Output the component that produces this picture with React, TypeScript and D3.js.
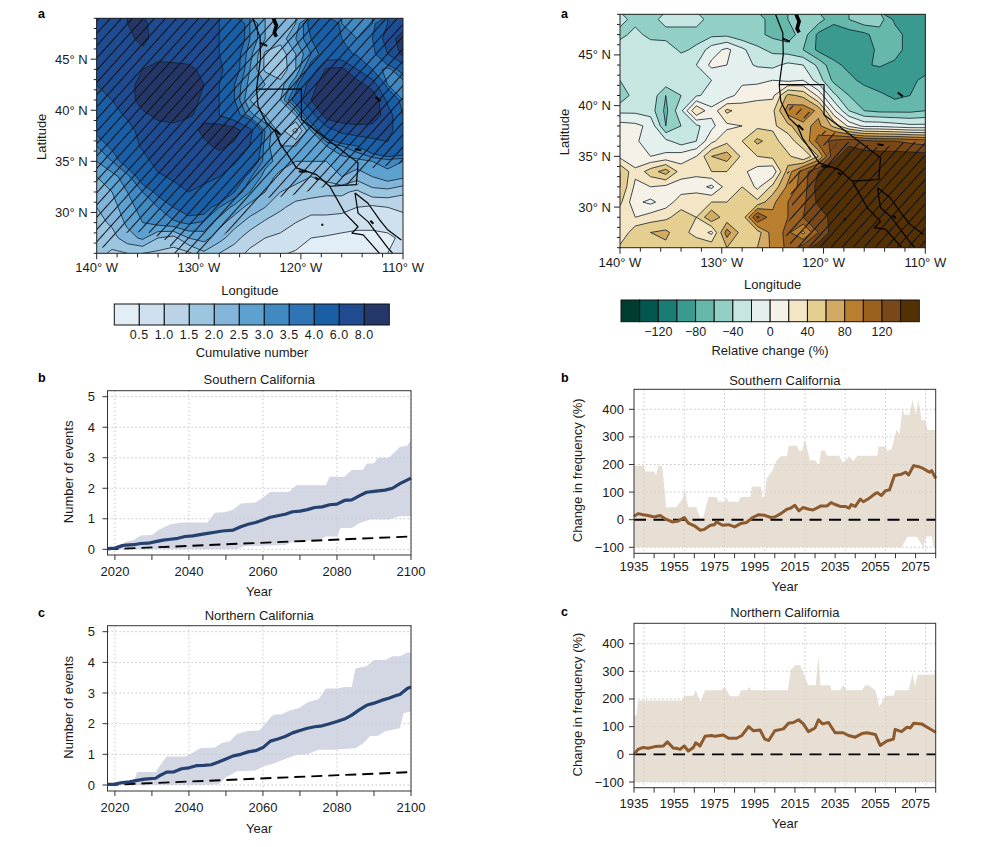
import React from "react";
import * as d3 from "d3";

// ---------- map data (rows north to south, 1.5 degree grid) ----------
const gridLons = [-140,-138.5,-137,-135.5,-134,-132.5,-131,-129.5,-128,-126.5,-125,-123.5,-122,-120.5,-119,-117.5,-116,-114.5,-113,-111.5,-110];
const gridLats = [48.5,47,45.5,44,42.5,41,39.5,38,36.5,35,33.5,32,30.5,29,27.5,26];

const cumulativeGrid = [
  [6.5,7,8,8.5,7,7,6.5,6.5,6,5,3.5,2.5,2,2.5,4.5,6,3.5,3,3.5,6,7],
  [6.2,6.5,7.5,8.5,7.2,7,6.5,6.5,6,5,3.5,2.5,2.2,3,4,5,4,3.5,4,7,9],
  [6.2,6.5,7,7.5,7.2,7,7,6.5,6,4.5,3.2,1.9,1.7,2.5,3.5,4.5,4.5,3.8,3.5,6,8.5],
  [6,6.5,7,8,8.8,8.8,8.5,7.5,6.5,4.5,3,1.9,1.6,2.5,4.5,8.3,8.5,6,4,3.2,4.5],
  [6,6.5,7,9,9.5,9.5,9.2,8,6,4,2.8,2.5,2.2,3.5,7,9.5,9.5,9,7,3.5,3],
  [5,6,7,9,9.5,9.5,9,7.5,6,4,2.5,2.3,2.5,4.5,8,9.5,9.5,9.5,9.8,5.5,3.5],
  [5,5.5,6.2,7.5,8.5,9,8.2,7.5,6,4.5,3.2,2.5,2.3,2.5,5,9,9.5,9.5,9.2,7,4],
  [4.2,5,5.5,6.5,7,7,7,8.5,9.5,9,6.5,3.5,2.2,1.3,3,5,6.5,7,7,6.5,5],
  [3.5,4.2,5.2,6.2,6.5,7,7.5,7.5,8.5,7.5,6,3.2,2.5,2.5,2.5,3,3.5,4,5,5.8,5.5],
  [3,3.5,4.5,5.5,6.5,6.8,7,7,6.8,6.2,5,3.2,2.8,2.5,2.5,2.5,2.7,2.8,3,3.2,3],
  [2.5,2.8,3.3,4.5,5.8,6.2,6.5,6.2,6,5,3.6,2.8,2.3,2.2,2,2.2,2.5,2.2,2.5,2.8,2.6],
  [2.2,2.5,3,3.5,4.2,5.5,6,5.8,5.5,4,3,2.5,2,1.8,1.7,1.6,1.6,1.4,1.8,1.8,1.6],
  [2,2.3,2.8,3.2,3.5,4,4.5,4.5,3.5,2.8,2.3,2,1.6,1.3,1.2,1.2,1.2,1,0.9,1,1.1],
  [1.8,2.1,2.6,3,3.2,3.4,3.6,3.4,2.7,2.2,1.8,1.4,1.2,1,0.8,0.8,0.7,0.6,0.6,0.7,0.8],
  [1.6,1.8,2.3,2.6,2,1.8,2.5,2.7,2.2,1.7,1.2,1,0.9,0.7,0.5,0.45,0.4,0.4,0.4,0.4,0.6],
  [1.7,1.4,1.5,1.5,1.4,1.3,1.4,1.9,1.5,1.2,0.9,0.7,0.55,0.45,0.4,0.35,0.3,0.3,0.35,0.5,0.8],
];

const relativeGrid = [
  [-30,-50,-50,-30,-30,-30,-50,-50,-50,-50,-70,-60,-45,-50,-75,-60,-45,-50,-85,-90,-90],
  [-50,-30,-50,-50,-50,-50,-45,-45,-55,-55,-65,-70,-50,-85,-90,-90,-85,-70,-70,-90,-90],
  [-20,-20,-20,-25,-45,-35,-10,5,-15,-35,-45,-50,-60,-85,-90,-90,-90,-75,-70,-90,-90],
  [-30,-25,-25,-30,-22,-20,5,0,-15,-22,-25,-15,-20,-45,-75,-85,-82,-78,-85,-90,-90],
  [-40,-25,-40,-25,-22,-25,-20,-10,-5,-5,0,-5,0,-30,-65,-75,-85,-95,-90,-85,-75],
  [-55,-30,-25,-60,-40,-22,-15,-10,10,15,15,65,55,15,-35,-60,-70,-75,-85,-80,-65],
  [-25,-25,-30,-65,-25,40,5,45,30,30,35,90,95,75,5,-40,-60,-65,-65,-65,-60],
  [8,5,-5,-60,-40,-25,-5,15,20,35,35,55,75,85,55,15,-5,-5,-10,-15,-15],
  [5,3,-10,-15,-30,-20,15,35,40,65,50,25,60,110,125,135,125,120,120,115,110],
  [15,5,0,5,10,20,60,70,35,40,45,45,20,60,135,150,150,150,150,150,150],
  [60,25,50,70,30,25,40,40,25,10,5,70,110,140,150,150,150,150,150,150,150],
  [60,15,20,15,10,10,-5,30,40,15,45,85,110,150,150,150,150,150,150,150,150],
  [45,5,-5,10,30,35,40,40,40,45,75,100,115,145,150,150,150,150,150,150,150],
  [25,20,30,35,50,40,78,45,45,125,85,100,120,125,150,150,150,150,150,150,150],
  [20,55,60,65,45,35,15,90,50,50,90,105,75,120,150,150,150,150,150,150,150],
  [45,55,50,55,45,50,55,60,55,60,85,105,130,150,150,150,150,150,150,150,150],
];

const cumulativeThresholds = [0.5,1,1.5,2,2.5,3,3.5,4,6,8];
const cumulativeColors = ["#e3edf5","#cfe0ef","#bad3e6","#9cc6e0","#82b5d9","#5ca1cf","#4189c1","#2f75b5","#1a5fa6","#1f4b91","#253768"];
const cumulativeLabels = ["0.5","1.0","1.5","2.0","2.5","3.0","3.5","4.0","6.0","8.0"];

const relativeThresholds = [-140,-120,-100,-80,-60,-40,-20,0,20,40,60,80,100,120,140];
const relativeColors = ["#003c30","#05564f","#1a7d75","#3a9a8f","#66b8ab","#92d0c5","#c6e7e1","#e4f0ee","#f5f1e6","#f4e6c4","#e5cf90","#d2aa63","#ba7e2f","#99601f","#7a4818","#543005"];
const relativeLabels = ["","−120","","−80","","−40","","0","","40","","80","","120",""];

const cumulativeHatch: [number, number][][] = [[
  [-140,49.3],[-110,49.3],[-110,34.85],[-112,34.5],[-113.9,34.2],[-114.4,32.7],[-117.2,32.6],[-118.8,32.2],[-121.1,31.6],[-123.7,31.4],
  [-125.65,29.3],[-129.2,26.5],[-130.5,25.8],[-132.5,25.8],[-133,27.15],[-135.1,28.1],[-137.1,28],[-138.7,26.65],[-140,26.5],
]];
const relativeHatch: [number, number][][] = [
  [[-109.8,36.46],[-111.8,36.46],[-114.4,35.8],[-117,36.46],[-118.7,36.3],[-120,34.8],[-121.6,33.66],[-123.6,33.5],[-123.3,31.7],[-123,29.4],[-123.9,27.74],[-123,25.8],[-109.8,25.8]],
  [[-123.6,40.24],[-121,39.26],[-121.6,38.6],[-123.3,39.4]],
  [[-120.2,37.6],[-118.7,37.3],[-120,36]],
];

const coast: [number, number][] = [[-124.7,48.95],[-124,47.15],[-123.96,45],[-124.35,42.07],[-124.2,40.43],[-123.4,38.8],[-122.55,37.97],[-122.07,36.8],[-120.76,34.85],[-120.44,34.36],[-118.48,33.7],[-117.18,32.56],[-115.7,29.93],[-114.4,28.6],[-115,27.97],[-113.9,27.8],[-112.3,26]];
const stateBorder: [number, number][] = [[-124.35,42.07],[-119.95,42.07],[-119.95,39.1],[-114.4,34.85],[-114.57,32.72],[-117.18,32.56]];
const bajaEast: [number, number][] = [[-114.7,31.9],[-114.4,29.93],[-113.43,29.1],[-112.6,28],[-111.47,26.5],[-111,26]];
const mexicoMainland: [number, number][] = [[-114.7,31.9],[-113.43,30.9],[-112.3,29.3],[-111.5,28.3],[-110.17,27.3]];
const pugetSound: [number, number][] = [[-122.7,49],[-122.4,48.3],[-122.6,47.6],[-122.4,47.2]];
const smallFeatures: [number, number][][] = [
  [[-122.5,38.1],[-122,37.6]],[[-124,46.6],[-123.3,46.3]],[[-120.2,34],[-119.4,34]],[[-118.6,33.4],[-118.3,33.2]],
  [[-112.7,41.3],[-112.2,40.9]],[[-114.7,36.2],[-114.1,36.1]],[[-117.9,28.9],[-117.9,28.7]],[[-113.2,29.2],[-112.9,28.9]],
];

// ---------- time series ----------
const southYearTicks = [2020,2040,2060,2080,2100];
const southMean: [number, number][] = [[2018,.02],[2019,.03],[2020,.04],[2021,.08],[2022,.12],[2023,.14],[2025,.15],[2027,.19],[2029,.2],[2031,.25],[2033,.3],[2035,.33],[2037,.36],[2039,.42],[2041,.44],[2043,.48],[2045,.52],[2047,.56],[2049,.6],[2052,.63],[2054,.74],[2056,.82],[2058,.88],[2060,.96],[2062,1.05],[2064,1.1],[2066,1.15],[2068,1.23],[2070,1.25],[2072,1.3],[2074,1.37],[2076,1.39],[2078,1.46],[2080,1.48],[2082,1.6],[2084,1.62],[2086,1.75],[2088,1.87],[2090,1.9],[2093,1.94],[2095,2],[2097,2.15],[2100,2.33]];
const southUpper: [number, number][] = [[2018,.02],[2021,.1],[2023,.25],[2025,.3],[2027,.45],[2030,.47],[2032,.65],[2035,.82],[2038,.88],[2045,.88],[2047,1.2],[2050,1.22],[2052,1.3],[2054,1.5],[2058,1.53],[2060,1.7],[2062,1.88],[2067,1.88],[2069,2.1],[2077,2.1],[2078,2.38],[2082,2.38],[2084,2.6],[2087,2.6],[2088,2.8],[2090,2.82],[2091,3],[2094,3],[2097,3.35],[2099,3.4],[2100,3.58]];
const southLower: [number, number][] = [[2018,0],[2053,0],[2055,.1],[2060,.12],[2066,.14],[2068,.25],[2074,.3],[2076,.35],[2077,.42],[2080,.42],[2081,.7],[2084,.7],[2086,.85],[2089,.98],[2094,.98],[2097,1.08],[2100,1.08]];
const northMean: [number, number][] = [[2018,.02],[2020,.03],[2022,.08],[2024,.1],[2026,.15],[2028,.19],[2031,.22],[2032,.3],[2034,.42],[2036,.43],[2038,.53],[2040,.56],[2042,.63],[2044,.64],[2046,.66],[2048,.75],[2050,.85],[2052,.95],[2054,1],[2056,1.08],[2058,1.12],[2060,1.22],[2062,1.43],[2064,1.5],[2066,1.58],[2068,1.7],[2070,1.78],[2072,1.85],[2074,1.9],[2076,1.93],[2078,2],[2080,2.07],[2082,2.15],[2084,2.28],[2086,2.45],[2088,2.6],[2090,2.67],[2092,2.76],[2094,2.83],[2096,2.92],[2097,2.95],[2099,3.15],[2100,3.2]];
const northUpper: [number, number][] = [[2018,.02],[2022,.05],[2025,.1],[2026,.42],[2031,.42],[2032,.6],[2034,.93],[2039,.93],[2041,1.05],[2043,1.2],[2047,1.22],[2049,1.38],[2051,1.42],[2053,1.66],[2056,1.76],[2059,1.78],[2060,1.9],[2062,2.2],[2063,2.3],[2065,2.3],[2067,2.42],[2070,2.52],[2072,2.7],[2075,2.8],[2077,3.15],[2080,3.15],[2082,3.2],[2084,3.2],[2085,3.8],[2088,3.87],[2090,4.08],[2093,4.08],[2095,4.2],[2097,4.2],[2099,4.32],[2100,4.32]];
const northLower: [number, number][] = [[2018,0],[2043,0],[2048,.02],[2050,.25],[2053,.45],[2058,.47],[2060,.6],[2063,.7],[2066,.85],[2069,.98],[2072,1],[2075,1.15],[2079,1.15],[2085,1.2],[2087,1.35],[2089,1.6],[2091,1.6],[2093,1.75],[2097,1.85],[2098,2.35],[2100,2.4]];
const baselineEvents: [number, number][] = [[2018,0],[2100,.42]];

const southChange: [number, number][] = [[1935,12],[1937,22],[1939.6,18],[1942,15],[1945,10],[1948,15],[1950,5],[1954,-8],[1957,-5],[1960,8],[1962,-12],[1965,-22],[1968,-38],[1970,-35],[1973,-20],[1975,-18],[1976,-8],[1979,-20],[1982,-18],[1985,-26],[1988,-14],[1991,-10],[1994,8],[1997,18],[2000,16],[2003,8],[2005,10],[2008,22],[2011,38],[2013,42],[2015,52],[2017,32],[2019,44],[2022,38],[2024,35],[2028,50],[2031,50],[2033,62],[2035,55],[2037.5,48],[2040,48],[2042,42],[2043,55],[2045,48],[2047.5,75],[2049,65],[2052,78],[2055,95],[2056,98],[2058,88],[2060,105],[2062,108],[2064.5,160],[2068,165],[2070,172],[2071.5,162],[2074,196],[2076.5,192],[2079,185],[2080.5,178],[2082,172],[2083,178],[2085,150]];
const southChangeUpper: [number, number][] = [[1935,195],[1940,195],[1940.5,175],[1945,175],[1946,160],[1947,195],[1949,195],[1950,125],[1951,45],[1956,45],[1958,65],[1959.5,80],[1960,115],[1962,45],[1966,45],[1968,5],[1969.5,10],[1972,82],[1976,82],[1977,65],[1980,65],[1981,82],[1982,65],[1987,65],[1988,82],[1993,82],[1993.5,120],[1998,120],[1999,80],[2000,85],[2001,150],[2003.5,175],[2006,215],[2008,230],[2011,230],[2012,268],[2016,268],[2017,250],[2018.5,250],[2020,290],[2022.5,215],[2025,215],[2027,195],[2028,250],[2030,250],[2031,232],[2037,232],[2039,205],[2042,230],[2044,212],[2046,232],[2056,232],[2056.5,265],[2060,265],[2061,250],[2063,255],[2065.5,325],[2067,310],[2068.5,400],[2069.5,380],[2072,380],[2073.5,435],[2075,380],[2076.5,435],[2078,360],[2080,360],[2081,325],[2085,325]];
const southChangeLower: [number, number][] = [[1935,-100],[2068,-100],[2071,-62],[2075.5,-62],[2079,-100],[2080,-62],[2083,-60],[2084,-100],[2085,-100]];
const northChange: [number, number][] = [[1935,0],[1937,18],[1939.6,25],[1942,22],[1945.4,28],[1949.6,30],[1951.6,45],[1954.6,22],[1956.2,22],[1957.9,18],[1960,30],[1962,12],[1964.5,25],[1965.7,42],[1967.8,30],[1970.3,65],[1973.6,68],[1975.3,65],[1979.4,70],[1982,58],[1986,58],[1988.6,68],[1992,100],[1994.4,85],[1997.7,88],[2000,55],[2002,50],[2005,85],[2009.3,92],[2011.8,112],[2014.3,115],[2016.8,125],[2019.2,110],[2021.7,82],[2025,95],[2026.7,125],[2028.7,110],[2031.7,115],[2035,78],[2039,78],[2041.6,68],[2045,62],[2048.3,75],[2050.8,78],[2055,72],[2057.4,32],[2060.7,48],[2064,55],[2064.8,90],[2068,82],[2070.7,98],[2072.3,95],[2074,112],[2078,110],[2081.4,95],[2085,80]];
const northChangeUpper: [number, number][] = [[1935,140],[1936.3,140],[1937,195],[1958.7,195],[1960,212],[1964.5,212],[1965.7,232],[1968,190],[1970.3,232],[1978.6,232],[1980,245],[1982.8,210],[1987,210],[1988.2,232],[1991.6,232],[1992.2,245],[1993.2,232],[2011.5,232],[2013,305],[2015,322],[2017.6,322],[2021.7,250],[2025.4,250],[2026.7,355],[2027.7,250],[2032.5,250],[2033.3,232],[2037.5,232],[2039,250],[2040.8,232],[2048.3,232],[2050,250],[2051.6,250],[2055,232],[2057,172],[2060,212],[2064,212],[2065,232],[2071.5,232],[2073.5,290],[2074.8,245],[2076,288],[2084,288],[2085,305]];
const northChangeLower: [number, number][] = [[1935,-100],[2085,-100]];
const zeroLine: [number, number][] = [[1935,0],[2085,0]];

const F = "'Liberation Sans', Arial, sans-serif";
const TXT = "#1a1a1a";
const FS = 13;

function MapPanel(p: {id: string; x0: number; x1: number; y0: number; y1: number; grid: number[][]; thresholds: number[]; colors: string[]; hatch: [number, number][][]; latLabelX: number; lonLabelY: number; tickY: number}) {
  const x = d3.scaleLinear().domain([-140, -110]).range([p.x0, p.x1]);
  const y = d3.scaleLinear().domain([26, 49]).range([p.y1, p.y0]);
  const nx = gridLons.length, ny = gridLats.length;
  const dLon = gridLons[1] - gridLons[0], dLat = gridLats[0] - gridLats[1];
  const contours = d3.contours().size([nx, ny]).thresholds(p.thresholds)(p.grid.flat());
  const path = d3.geoPath(d3.geoTransform({
    point(gx: number, gy: number) {
      (this as any).stream.point(x(gridLons[0] + (gx - 0.5) * dLon), y(gridLats[0] - (gy - 0.5) * dLat));
    },
  }) as any);
  const line = d3.line<[number, number]>().x((d) => x(d[0])).y((d) => y(d[1]));
  const hatchD = p.hatch.map((h) => line(h) + "Z").join(" ");
  const lonTicks = d3.range(-140, -109, 2);
  const latTicks = d3.range(26, 50, 1);
  return (
    <g>
      <defs>
        <clipPath id={p.id + "clip"}><rect x={p.x0} y={p.y0} width={p.x1 - p.x0} height={p.y1 - p.y0} /></clipPath>
        <clipPath id={p.id + "hatchclip"}><path d={hatchD} /></clipPath>
        <pattern id={p.id + "hatch"} patternUnits="userSpaceOnUse" width={8.2} height={8.2} patternTransform="rotate(42)">
          <line x1={4.1} y1={0} x2={4.1} y2={8.2} stroke="#0b0f18" strokeWidth={1} />
        </pattern>
      </defs>
      <g clipPath={`url(#${p.id}clip)`}>
        <rect x={p.x0} y={p.y0} width={p.x1 - p.x0} height={p.y1 - p.y0} fill={p.colors[0]} />
        {contours.map((c, i) => (
          <path key={i} d={path(c as any) ?? ""} fill={p.colors[i + 1]} stroke="#12202c" strokeWidth={0.8} strokeLinejoin="round" />
        ))}
        <g clipPath={`url(#${p.id}hatchclip)`}>
          <rect x={p.x0} y={p.y0} width={p.x1 - p.x0} height={p.y1 - p.y0} fill={`url(#${p.id}hatch)`} />
        </g>
        {[coast, stateBorder, bajaEast, mexicoMainland].map((l, i) => (
          <path key={i} d={line(l) ?? ""} fill="none" stroke="#000" strokeWidth={1.2} strokeLinejoin="round" />
        ))}
        <path d={line(pugetSound) ?? ""} fill="none" stroke="#000" strokeWidth={3.6} />
        {smallFeatures.map((l, i) => (
          <path key={i} d={line(l) ?? ""} fill="none" stroke="#000" strokeWidth={2} />
        ))}
      </g>
      <rect x={p.x0} y={p.y0} width={p.x1 - p.x0} height={p.y1 - p.y0} fill="none" stroke="#222" strokeWidth={1} />
      {lonTicks.map((t) => (
        <line key={t} x1={x(t)} x2={x(t)} y1={p.y1} y2={p.y1 + (t % 10 === 0 ? 6 : 4)} stroke="#222" />
      ))}
      {latTicks.map((t) => (
        <line key={t} x1={p.x0} x2={p.x0 - (t % 5 === 0 ? 6 : 3)} y1={y(t)} y2={y(t)} stroke="#222" />
      ))}
      {[-140, -130, -120, -110].map((t) => (
        <text key={t} x={x(t)} y={p.tickY} textAnchor="middle" fontSize={FS} fontFamily={F} fill={TXT}>{`${-t}° W`}</text>
      ))}
      {[30, 35, 40, 45].map((t) => (
        <text key={t} x={p.x0 - 9} y={y(t) + 4.5} textAnchor="end" fontSize={FS} fontFamily={F} fill={TXT}>{`${t}° N`}</text>
      ))}
      <text transform={`translate(${p.latLabelX},${(p.y0 + p.y1) / 2 + 1}) rotate(-90)`} textAnchor="middle" fontSize={FS} fontFamily={F} fill={TXT}>Latitude</text>
      <text x={(p.x0 + p.x1) / 2} y={p.lonLabelY} textAnchor="middle" fontSize={FS} fontFamily={F} fill={TXT}>Longitude</text>
    </g>
  );
}

function ColorBar(p: {x0: number; x1: number; y0: number; y1: number; colors: string[]; labels: string[]; title: string; labelY: number; titleY: number; titleX: number; labelSpacing?: number}) {
  const x = d3.scaleLinear().domain([0, p.colors.length]).range([p.x0, p.x1]);
  return (
    <g>
      {p.colors.map((c, i) => (
        <rect key={i} x={x(i)} y={p.y0} width={x(1) - x(0)} height={p.y1 - p.y0} fill={c} stroke="#111" strokeWidth={1} />
      ))}
      {p.labels.map((l, i) => l && (
        <text key={i} x={x(i + 1)} y={p.labelY} textAnchor="middle" fontSize={12.5} fontFamily={F} fill={TXT} letterSpacing={p.labelSpacing ?? 0}>{l}</text>
      ))}
      <text x={p.titleX} y={p.titleY} textAnchor="middle" fontSize={FS} fontFamily={F} fill={TXT}>{p.title}</text>
    </g>
  );
}

function SeriesPanel(p: {
  x0: number; x1: number; y0: number; y1: number; xDomain: [number, number]; yDomain: [number, number];
  xGrid: number[]; xMinor: number[]; xLabels: number[]; yTicks: number[]; title: string; titleY: number; tickY: number; yearY: number;
  yLabel: string; yLabelX: number; upper: [number, number][]; lower: [number, number][]; mean: [number, number][]; base: [number, number][];
  band: string; color: string; lineW: number; dash: string; labelEnd: number;
}) {
  const x = d3.scaleLinear().domain(p.xDomain).range([p.x0, p.x1]);
  const y = d3.scaleLinear().domain(p.yDomain).range([p.y1, p.y0]);
  const line = d3.line<[number, number]>().x((d) => x(d[0])).y((d) => y(d[1]));
  const lowerRev = [...p.lower].reverse();
  const bandD = line(p.upper)! + "L" + line(lowerRev)!.slice(1) + "Z";
  const cx = (p.x0 + p.x1) / 2;
  return (
    <g>
      {p.xGrid.map((t) => (
        <line key={t} x1={x(t)} x2={x(t)} y1={p.y0} y2={p.y1} stroke="#c4c4c4" strokeWidth={1} strokeDasharray="1.5 2.5" />
      ))}
      {p.yTicks.map((t) => (
        <line key={t} x1={p.x0} x2={p.x1} y1={y(t)} y2={y(t)} stroke="#c4c4c4" strokeWidth={1} strokeDasharray="1.5 2.5" />
      ))}
      <path d={bandD} fill={p.band} />
      <path d={line(p.base) ?? ""} fill="none" stroke="#000" strokeWidth={1.9} strokeDasharray={p.dash} />
      <path d={line(p.mean) ?? ""} fill="none" stroke={p.color} strokeWidth={p.lineW} strokeLinejoin="round" />
      <rect x={p.x0} y={p.y0} width={p.x1 - p.x0} height={p.y1 - p.y0} fill="none" stroke="#333" strokeWidth={1} />
      {p.xMinor.map((t) => (
        <line key={t} x1={x(t)} x2={x(t)} y1={p.y1} y2={p.y1 + 5} stroke="#333" />
      ))}
      {p.xLabels.map((t) => (
        <text key={t} x={x(t)} y={p.tickY} textAnchor="middle" fontSize={FS} fontFamily={F} fill={TXT}>{t}</text>
      ))}
      {p.yTicks.map((t) => (
        <g key={t}>
          <line x1={p.x0} x2={p.x0 - 5} y1={y(t)} y2={y(t)} stroke="#333" />
          <text x={p.labelEnd} y={y(t) + 4.5} textAnchor="end" fontSize={FS} fontFamily={F} fill={TXT}>{t < 0 ? `−${-t}` : t}</text>
        </g>
      ))}
      <text x={cx} y={p.titleY} textAnchor="middle" fontSize={FS} fontFamily={F} fill={TXT}>{p.title}</text>
      <text x={cx} y={p.yearY} textAnchor="middle" fontSize={FS} fontFamily={F} fill={TXT}>Year</text>
      <text transform={`translate(${p.yLabelX},${(p.y0 + p.y1) / 2 - 1}) rotate(-90)`} textAnchor="middle" fontSize={FS} fontFamily={F} fill={TXT}>{p.yLabel}</text>
    </g>
  );
}

const panelLetters: [string, number, number][] = [["a",38,18],["b",38,382],["c",38,617],["a",561,18],["b",561,382],["c",561,616]];

export default function App() {
  const leftX = {x0: 107.5, x1: 411, xDomain: [2018, 2100] as [number, number], xGrid: southYearTicks, xMinor: d3.range(2020, 2101, 10), xLabels: southYearTicks,
    yTicks: [0,1,2,3,4,5], band: "rgba(200,205,220,0.8)", color: "#24416f", lineW: 3.2, dash: "11 6", labelEnd: 95, yLabel: "Number of events", yLabelX: 73};
  const rightX = {x0: 634, x1: 935.7, xDomain: [1935, 2085] as [number, number], xGrid: d3.range(1940, 2081, 20), xMinor: d3.range(1935, 2086, 10), xLabels: d3.range(1935, 2076, 20),
    yTicks: [-100,0,100,200,300,400], band: "rgba(222,209,196,0.72)", color: "#8c5a2c", lineW: 3, dash: "12 7.5", labelEnd: 624, yLabel: "Change in frequency (%)", yLabelX: 582};
  return (
    <svg width={995} height={847} viewBox="0 0 995 847" style={{position: "absolute", left: 0, top: 0, background: "#fff"}}>
      <MapPanel id="ml" x0={96.7} x1={403} y0={18.3} y1={253.3} grid={cumulativeGrid} thresholds={cumulativeThresholds} colors={cumulativeColors} hatch={cumulativeHatch} latLabelX={46} lonLabelY={295} tickY={272} />
      <MapPanel id="mr" x0={620} x1={925.3} y0={14.3} y1={247.7} grid={relativeGrid} thresholds={relativeThresholds} colors={relativeColors} hatch={relativeHatch} latLabelX={569} lonLabelY={289} tickY={267} />
      <ColorBar x0={114.3} x1={389.3} y0={304} y1={325} colors={cumulativeColors} labels={cumulativeLabels} title="Cumulative number" labelY={339} titleY={357} titleX={252} labelSpacing={0.5} />
      <ColorBar x0={621} x1={919.3} y0={300} y1={321.7} colors={relativeColors} labels={relativeLabels} title="Relative change (%)" labelY={336} titleY={355} titleX={770} />
      <SeriesPanel {...leftX} y0={390.7} y1={555} yDomain={[(549.3 - 555) / 30.52, 5 + (396.7 - 390.7) / 30.52]} title="Southern California" titleY={384} tickY={576} yearY={596} upper={southUpper} lower={southLower} mean={southMean} base={baselineEvents} />
      <SeriesPanel {...leftX} y0={625.7} y1={791} yDomain={[(785 - 791) / 30.66, 5 + (631.7 - 625.7) / 30.66]} title="Northern California" titleY={620} tickY={812} yearY={833} upper={northUpper} lower={northLower} mean={northMean} base={baselineEvents} />
      <SeriesPanel {...rightX} y0={389.3} y1={553.3} yDomain={[-100 - (553.3 - 547.3) / 0.276, 400 + (409.3 - 389.3) / 0.276]} title="Southern California" titleY={385} tickY={571} yearY={591} upper={southChangeUpper} lower={southChangeLower} mean={southChange} base={zeroLine} />
      <SeriesPanel {...rightX} y0={623.3} y1={787.7} yDomain={[-100 - (787.7 - 782) / 0.2775, 400 + (643.7 - 623.3) / 0.2775]} title="Northern California" titleY={617} tickY={808} yearY={828} upper={northChangeUpper} lower={northChangeLower} mean={northChange} base={zeroLine} />
      {panelLetters.map(([t, lx, ly], i) => (
        <text key={i} x={lx} y={ly} fontSize={12.5} fontWeight="bold" fontFamily={F} fill="#000">{t}</text>
      ))}
    </svg>
  );
}
